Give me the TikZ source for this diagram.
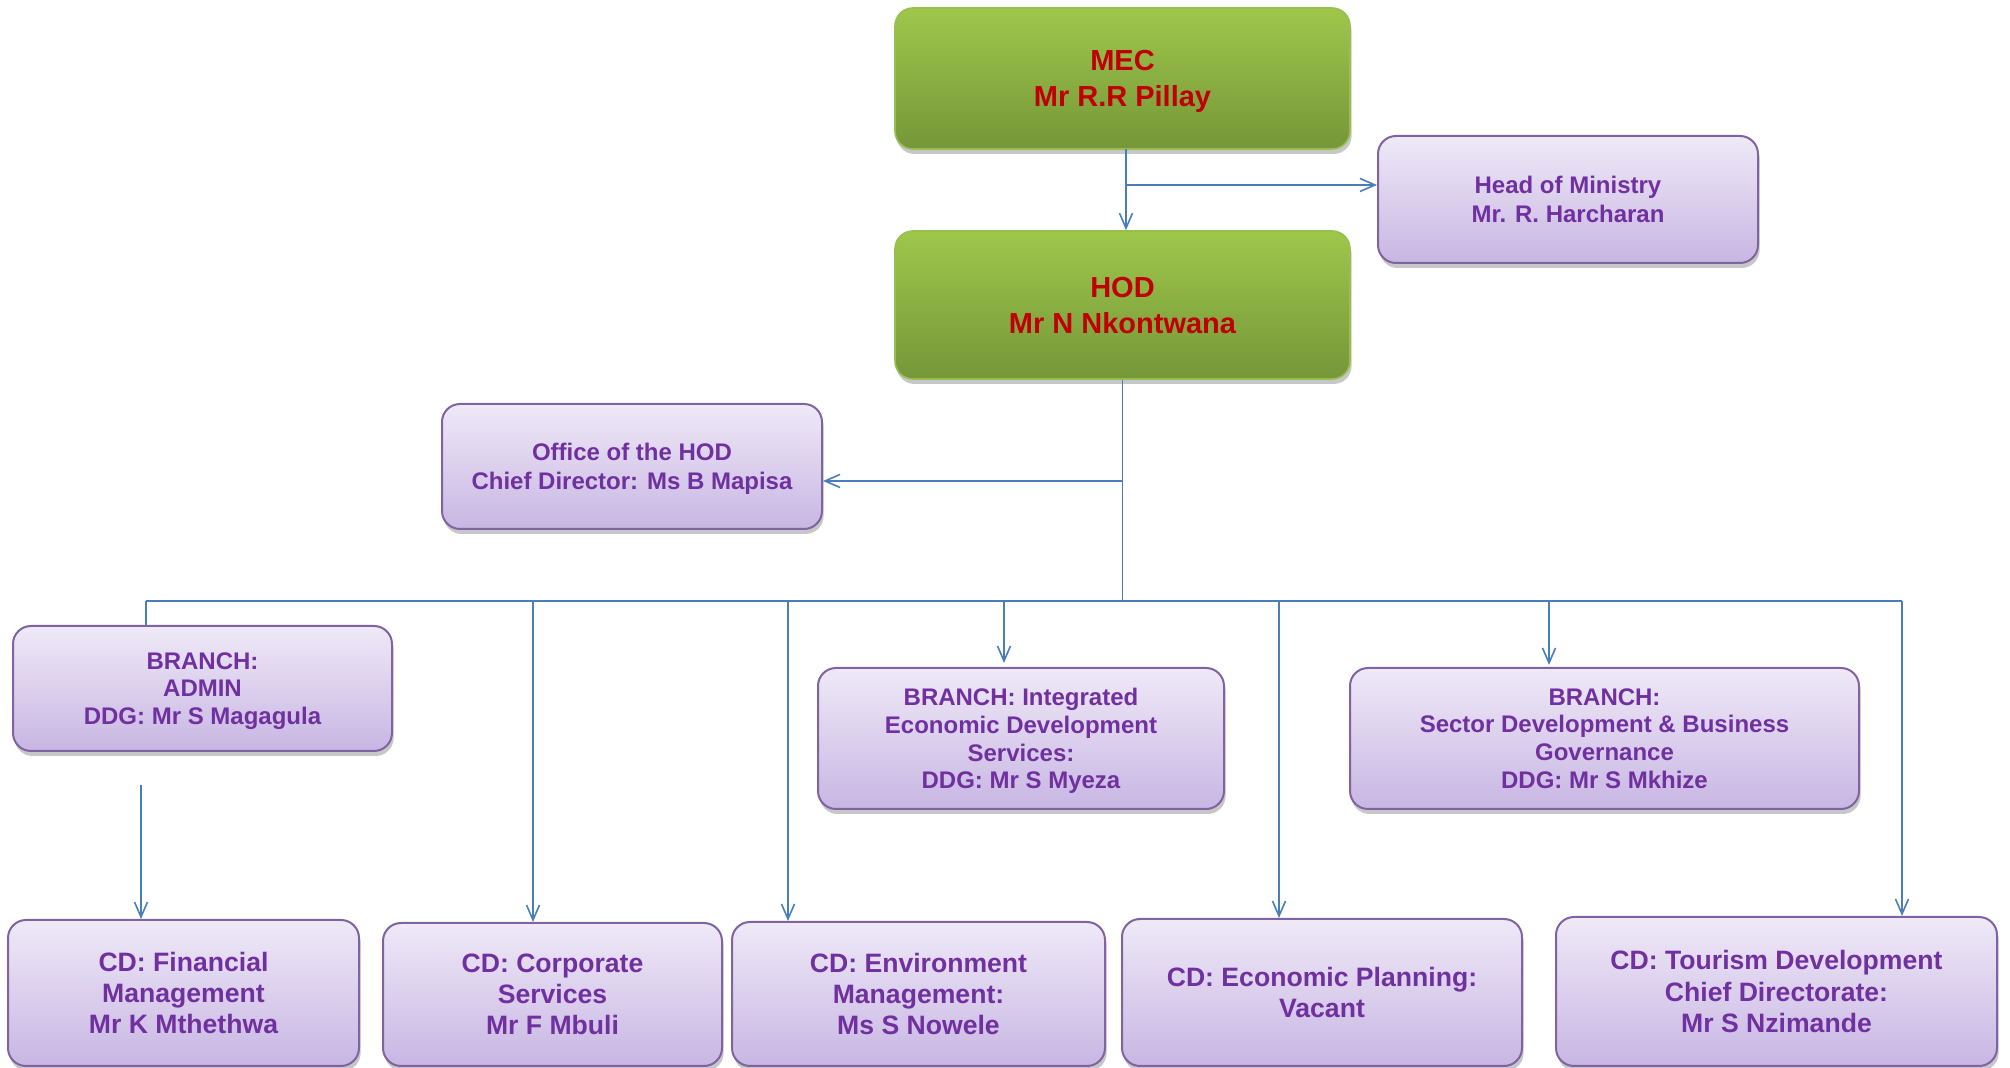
\documentclass[tikz,border=0pt]{standalone}
\usepackage{fontspec}
\setmainfont{Liberation Sans}
\usetikzlibrary{arrows.meta,shadows,calc}
\definecolor{gTop}{RGB}{158,199,75}
\definecolor{gBot}{RGB}{118,150,57}
\definecolor{gBord}{RGB}{150,190,80}
\definecolor{redT}{RGB}{192,0,0}
\definecolor{pTop}{RGB}{239,233,247}
\definecolor{pBot}{RGB}{200,182,227}
\definecolor{pBord}{RGB}{128,100,162}
\definecolor{purT}{RGB}{112,48,160}
\definecolor{lineB}{RGB}{74,126,187}
\tikzset{
  box/.style={rounded corners=9pt, align=center, inner sep=0pt, text depth=0pt,
    drop shadow={shadow xshift=0.8pt, shadow yshift=-2.5pt, fill=black, opacity=0.22}},
  greenbox/.style={box, top color=gTop, bottom color=gBot, draw=gBord, line width=0.8pt,
    text=redT, font=\bfseries\fontsize{14.5}{18}\selectfont},
  purplebox/.style={box, top color=pTop, bottom color=pBot, draw=pBord, line width=1pt,
    text=purT, font=\bfseries\fontsize{12}{14.2}\selectfont},
  branchbox/.style={purplebox, font=\bfseries\fontsize{12}{13.9}\selectfont},
  cdbox/.style={purplebox, font=\bfseries\fontsize{13.3}{15.6}\selectfont},
  conn/.style={draw=lineB, line width=0.8pt},
  arr/.style={conn, -{Straight Barb[length=7.5pt,width=6.5pt]}}
}
\begin{document}
\begin{tikzpicture}[x=0.5pt,y=-0.5pt]
\useasboundingbox (0,0) rectangle (2010,1068);

% top level
\node[greenbox, minimum width=227.5pt, minimum height=70.5pt] (mec) at (1122.5,78.5) {MEC\\Mr R.R Pillay};
\node[greenbox, minimum width=227.5pt, minimum height=74pt] (hod) at (1122.5,305) {HOD\\Mr N Nkontwana};
\node[purplebox, minimum width=190pt, minimum height=63.5pt] (hom) at (1568,199.5) {Head of Ministry\\Mr. R. Harcharan};
\node[purplebox, minimum width=190pt, minimum height=62.5pt] (office) at (632,466.5) {Office of the HOD\\Chief Director: Ms B Mapisa};

% branches
\node[branchbox, minimum width=189.5pt, minimum height=62.5pt] (admin) at (202.5,688.5) {BRANCH:\\ADMIN\\DDG: Mr S Magagula};
\node[branchbox, minimum width=203pt, minimum height=70.5pt] (integ) at (1021,738.5) {BRANCH: Integrated\\Economic Development\\Services:\\DDG: Mr S Myeza};
\node[branchbox, minimum width=254.5pt, minimum height=70.5pt] (sector) at (1604.5,738.5) {BRANCH:\\Sector Development \& Business\\Governance\\DDG: Mr S Mkhize};

% chief directorates
\node[cdbox, minimum width=175.5pt, minimum height=73pt] (fin) at (183.5,993) {CD: Financial\\Management\\Mr K Mthethwa};
\node[cdbox, minimum width=169.5pt, minimum height=71.5pt] (corp) at (552.5,994.5) {CD: Corporate\\Services\\Mr F Mbuli};
\node[cdbox, minimum width=186.5pt, minimum height=72pt] (env) at (918.5,994) {CD: Environment\\Management:\\Ms S Nowele};
\node[cdbox, minimum width=200pt, minimum height=73.5pt] (econ) at (1322,992.5) {CD: Economic Planning:\\Vacant};
\node[cdbox, minimum width=220.5pt, minimum height=74.5pt] (tour) at (1776.5,991.5) {CD: Tourism Development\\Chief Directorate:\\Mr S Nzimande};

% connectors
\coordinate (j0) at (1126,149);
\coordinate (j1) at (1126,185);
\draw[conn] (j0) -- (j1);
\draw[arr] (j1) -- (j1 |- hod.north);
\draw[arr] (j1) -- (j1 -| hom.west);

\coordinate (busC) at (1122.5,601);
\coordinate (j2) at (1122.5,481);
\draw[conn] (hod.south) -- (busC);
\draw[arr] (j2) -- (j2 -| office.east);

\coordinate (busL) at (146,601);
\coordinate (busR) at (1902,601);
\draw[conn] (busL) -- (busR);
\draw[conn] (busL) -- (busL |- admin.north);

\coordinate (finA) at (141,785);
\draw[arr] (finA) -- (finA |- fin.north);

\coordinate (bCorp) at (533,601);
\draw[arr] (bCorp) -- (bCorp |- corp.north);
\coordinate (bEnv) at (788,601);
\draw[arr] (bEnv) -- (bEnv |- env.north);
\coordinate (bInt) at (1004,601);
\draw[arr, shorten >=2pt] (bInt) -- (bInt |- integ.north);
\coordinate (bEcon) at (1279,601);
\draw[arr] (bEcon) -- (bEcon |- econ.north);
\coordinate (bSec) at (1549,601);
\draw[arr, shorten >=1pt] (bSec) -- (bSec |- sector.north);
\draw[arr] (busR) -- (busR |- tour.north);
\end{tikzpicture}
\end{document}
